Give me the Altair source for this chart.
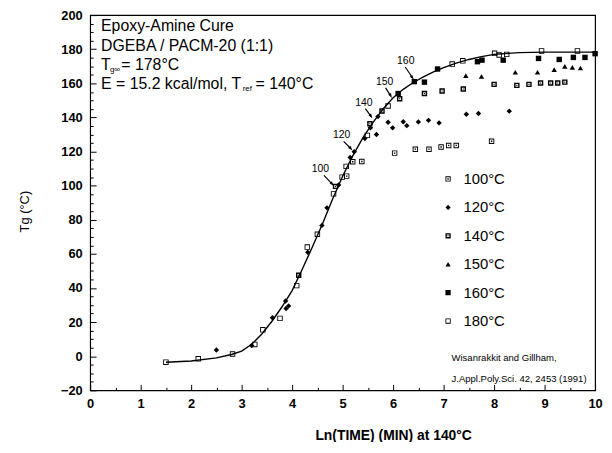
import altair as alt
import pandas as pd

# ---------------- data ----------------
# master curve
curve_x = [1.5, 2.0, 2.5, 2.8, 3.0, 3.2, 3.4, 3.6, 3.8, 4.0, 4.2, 4.4, 4.6, 4.8, 5.0,
           5.2, 5.4, 5.6, 5.8, 6.0, 6.2, 6.4, 6.6, 6.8, 7.0, 7.25, 7.5, 7.75, 8.0,
           8.5, 9.0, 9.5, 10.0]
curve_y = [-3.5, -2.8, -1.0, 1.0, 3.0, 7.0, 13.0, 20.5, 29.0, 38.5, 51.0, 64.0, 77.5,
           92.0, 105.5, 117.5, 128.0, 137.0, 145.0, 151.5, 156.5, 160.5, 163.8, 166.7,
           169.2, 171.8, 174.0, 175.7, 177.0, 178.0, 178.3, 178.3, 178.3]

series_names = ["100°C", "120°C", "140°C", "150°C", "160°C", "180°C"]

s100_x = [5.08, 5.20, 5.38, 6.03, 6.44, 6.71, 6.95, 7.10, 7.25, 7.95]
s100_y = [105.6, 114.0, 114.2, 119.1, 121.4, 121.4, 122.7, 123.6, 123.6, 126.0]

s120_x = [2.50, 3.20, 3.61, 3.87, 3.88, 3.93, 4.31, 4.59, 4.69, 4.92, 5.15, 5.23, 5.44,
          5.55, 5.67, 5.70, 5.90, 5.99, 6.20, 6.27, 6.50, 6.70, 6.91, 7.45, 7.69, 8.30]
s120_y = [3.6, 6.3, 22.6, 32.4, 28.0, 29.5, 61.0, 76.7, 87.0, 100.4, 116.5, 119.9, 127.6,
          133.9, 130.0, 140.5, 137.2, 133.9, 137.5, 135.2, 137.4, 138.3, 136.8, 141.9,
          142.3, 143.7]

s140_x = [4.13, 4.86, 5.54, 5.78, 6.13, 6.62, 6.97, 7.39, 8.00, 8.45, 8.69, 8.92, 9.12,
          9.26, 9.40]
s140_y = [47.5, 99.6, 136.3, 143.8, 151.0, 154.0, 155.5, 156.7, 159.4, 158.8, 159.4,
          160.2, 160.2, 160.2, 160.7]

s150_x = [7.44, 7.75, 8.42, 8.86, 9.19, 9.40, 9.55, 9.71]
s150_y = [164.5, 164.0, 166.5, 166.5, 168.0, 170.0, 169.4, 169.0]

s160_x = [6.10, 6.42, 6.62, 6.88, 7.67, 7.76, 8.18, 8.88, 9.29, 9.57, 9.80, 10.0]
s160_y = [154.0, 161.0, 160.7, 168.4, 172.7, 173.6, 173.6, 174.6, 174.0, 175.2, 175.2,
          177.4]

s180_x = [1.50, 2.14, 2.82, 3.26, 3.42, 3.76, 4.09, 4.30, 4.50, 4.82, 4.99, 5.07, 5.49,
          5.90, 7.17, 7.38, 8.01, 8.10, 8.25, 8.94, 9.65]
s180_y = [-3.5, -1.5, 1.3, 6.9, 15.5, 22.2, 41.4, 64.0, 71.5, 95.2, 105.0, 111.3, 129.5,
          146.7, 171.3, 173.2, 177.6, 176.6, 177.0, 179.0, 179.0]

# arrow annotations (cure temperatures marked on the master curve)
arrow_text = ["100", "120", "140", "150", "160"]
arrow_label_x = [4.56, 4.98, 5.42, 5.83, 6.25]
arrow_label_y = [109.5, 129.5, 148.7, 160.7, 173.2]
arrow_from_x = [4.63, 5.02, 5.45, 5.85, 6.24]
arrow_from_y = [106.0, 126.0, 145.2, 157.3, 169.6]
arrow_tip_x = [4.79, 5.16, 5.56, 5.95, 6.38]
arrow_tip_y = [101.0, 121.8, 140.8, 152.8, 163.4]
arrow_angle = [142, 139, 147, 153, 143]

x_major = list(range(0, 11))
x_minor = [i * 0.5 for i in range(0, 21)]
y_major = list(range(-20, 201, 20))
y_minor = list(range(-20, 201, 5))

# ---------------- build ----------------
FONT = "Liberation Sans"
W, H = 510, 379

xs = alt.Scale(domain=[0, 10], nice=False, zero=False)
ys = alt.Scale(domain=[-20, 200], nice=False, zero=False)

frames = []
for name, xv, yv in zip(series_names,
                        [s100_x, s120_x, s140_x, s150_x, s160_x, s180_x],
                        [s100_y, s120_y, s140_y, s150_y, s160_y, s180_y]):
    frames.append(pd.DataFrame({"x": xv, "y": yv, "series": name}))
pts = pd.concat(frames, ignore_index=True)

ring = "M-1,-1H1V1H-1Z"
shape_paths = [
    ring + "M-0.66,-0.66V0.66H0.66V-0.66Z" + "M-0.26,-0.26H0.26V0.26H-0.26Z",   # 100
    "diamond",                                                                  # 120
    ring + "M-0.48,-0.48V0.48H0.48V-0.48Z" + "M-0.2,-0.2H0.2V0.2H-0.2Z",       # 140
    "triangle-up",                                                              # 150
    "square",                                                                   # 160
    ring + "M-0.68,-0.68V0.68H0.68V-0.68Z",                                     # 180
]

curve_df = pd.DataFrame({"x": curve_x, "y": curve_y})

curve = alt.Chart(curve_df).mark_line(color="black", strokeWidth=1.4).encode(
    x=alt.X("x:Q", scale=xs, axis=alt.Axis(
        orient="bottom", values=x_major, ticks=False, domain=False, grid=False,
        labelFont=FONT, labelFontSize=13, labelFontWeight="bold", labelColor="black",
        labelPadding=7, labelFlush=False,
        title="Ln(TIME) (MIN) at 140°C", titleFont=FONT, titleFontSize=14,
        titleFontWeight="bold", titleColor="black", titleX=306, titleY=46,
        titleAlign="center", titleBaseline="middle")),
    y=alt.Y("y:Q", scale=ys, axis=alt.Axis(
        orient="left", values=y_major, ticks=False, domain=False, grid=False,
        labelFont=FONT, labelFontSize=13, labelFontWeight="bold", labelColor="black",
        labelPadding=8, labelFlush=False,
        title="Tg (°C)", titleFont=FONT, titleFontSize=13, titleFontWeight="normal",
        titleColor="black", titleX=-66, titleY=198, titleAngle=270,
        titleAlign="center", titleBaseline="middle")),
    order=alt.Order("x:Q"),
)

points = alt.Chart(pts).mark_point(filled=True, size=30, color="black", opacity=1).encode(
    x=alt.X("x:Q", scale=xs, axis=alt.Axis(
        orient="top", offset=-H, values=x_minor, labels=False, domain=False, grid=False,
        tickColor="black", tickWidth=1,
        tickSize={"condition": {"test": "datum.value % 1 === 0", "value": 6}, "value": 3},
        title=None)),
    y=alt.Y("y:Q", scale=ys, axis=alt.Axis(
        orient="right", offset=-W, values=y_minor, labels=False, domain=False, grid=False,
        tickColor="black", tickWidth=1,
        tickSize={"condition": {"test": "datum.value % 20 === 0", "value": 6}, "value": 3},
        title=None)),
    shape=alt.Shape("series:N", scale=alt.Scale(domain=series_names, range=shape_paths),
                    legend=alt.Legend(orient="none", legendX=354, legendY=158, title=None,
                                      labelFont=FONT, labelFontSize=15, labelColor="black",
                                      symbolSize=28, symbolFillColor="black",
                                      symbolStrokeWidth=0, rowPadding=12.7, labelOffset=8,
                                      padding=0)),
)

ann = pd.DataFrame({"t": arrow_text, "lx": arrow_label_x, "ly": arrow_label_y,
                    "fx": arrow_from_x, "fy": arrow_from_y,
                    "tx": arrow_tip_x, "ty": arrow_tip_y, "ang": arrow_angle})

arrow_lines = alt.Chart(ann).mark_rule(color="black", strokeWidth=1.2).encode(
    x=alt.X("fx:Q", scale=xs, axis=None), y=alt.Y("fy:Q", scale=ys, axis=None),
    x2="tx:Q", y2="ty:Q")
arrow_heads = alt.Chart(ann).mark_point(filled=True, color="black", size=28, opacity=1,
                                        shape="M0,-1L0.6,0.8L-0.6,0.8Z").encode(
    x=alt.X("tx:Q", scale=xs, axis=None), y=alt.Y("ty:Q", scale=ys, axis=None),
    angle=alt.Angle("ang:Q", scale=None))
arrow_labels = alt.Chart(ann).mark_text(font=FONT, fontSize=10.5, color="black").encode(
    x=alt.X("lx:Q", scale=xs, axis=None), y=alt.Y("ly:Q", scale=ys, axis=None),
    text="t:N")


def txt(s, x, y, size=16, weight="normal"):
    return alt.Chart(pd.DataFrame({"t": [s]})).mark_text(
        font=FONT, fontSize=size, fontWeight=weight, color="black", align="left",
        baseline="middle").encode(x=alt.value(x), y=alt.value(y), text="t:N")


texts = [
    txt("Epoxy-Amine Cure", 11, 11.5),
    txt("DGEBA / PACM-20 (1:1)", 11, 31),
    txt("T", 11, 50.5),
    txt("g∞", 20, 55, size=8),
    txt("= 178°C", 31.5, 50.5),
    txt("E = 15.2 kcal/mol, T", 11, 70),
    txt("ref", 154, 74.5, size=8),
    txt("= 140°C", 167, 70),
    txt("Wisanrakkit and Gillham,", 365, 346.3, size=9.6),
    txt("J.Appl.Poly.Sci.  42, 2453 (1991)", 365, 367.5, size=9.6),
]

chart = alt.layer(curve, points, arrow_lines, arrow_heads, arrow_labels, *texts).resolve_axis(
    x="independent", y="independent"
).properties(
    width=W, height=H,
    autosize=alt.AutoSizeParams(type="none"),
    padding={"left": 83, "top": 5, "right": 9, "bottom": 50},
    background="white",
).configure_view(stroke="black", strokeWidth=1.2)

chart.save("out.html", embed_options={"renderer": "svg", "actions": False})
